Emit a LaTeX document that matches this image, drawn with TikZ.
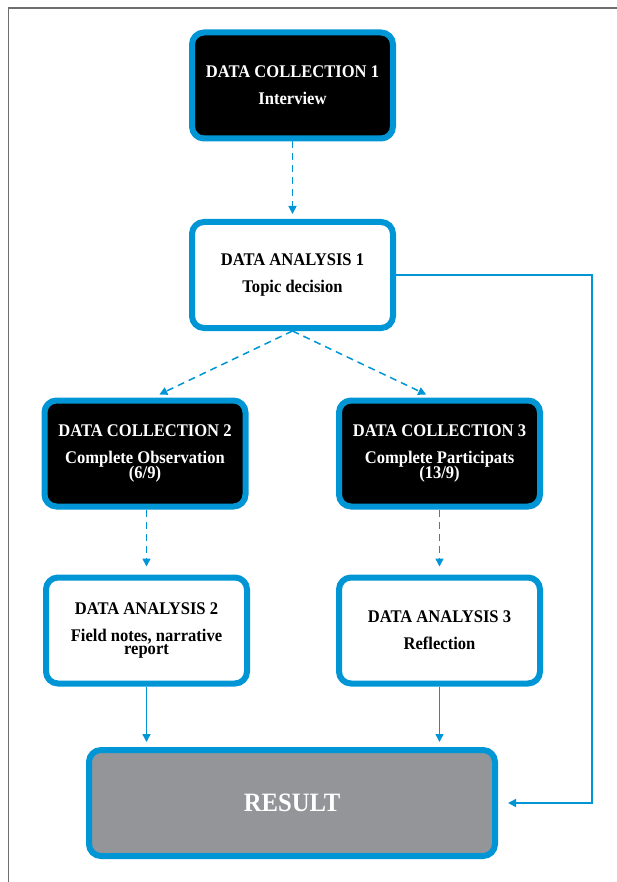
\documentclass[tikz,border=0pt]{standalone}
\usepackage{fontspec}
\setmainfont{Liberation Serif}[FakeStretch=0.93]
\usetikzlibrary{arrows.meta,calc}
\definecolor{flowblue}{RGB}{0,150,214}
\definecolor{resgray}{RGB}{148,149,153}
\definecolor{framegray}{RGB}{110,110,110}
% let text lines sit close without extra interline skip
\newcommand\tightlines{\lineskiplimit=-40pt\relax\lineskip=0pt\relax}

\begin{document}
\begin{tikzpicture}[x=1pt,y=-1pt,
  box/.style={draw=flowblue, line width=6pt, rounded corners=12pt,
    minimum width=201pt, minimum height=106pt, align=center, inner sep=0pt,
    font=\fontsize{17.8}{27}\selectfont\bfseries\tightlines},
  darkbox/.style={box, fill=black, text=white},
  lightbox/.style={box, fill=white, text=black},
  resultbox/.style={box, fill=resgray, text=white, minimum width=406pt,
    font=\fontsize{26.5}{30}\selectfont\bfseries},
  link/.style={draw=flowblue, line width=1.5pt,
    -{Triangle[length=8pt,width=8pt]}},
  dashlink/.style={link, dash pattern=on 7pt off 5pt}
]
\useasboundingbox (0,0) rectangle (617,882);

% page frame
\draw[framegray, line width=1.2pt] (8.5,882) -- (8.5,8) -- (617,8);

% stages
\node[darkbox]  (dc1) at (292.5,85.5) {DATA COLLECTION 1\\Interview};
\node[lightbox] (da1) at (292.5,275) {DATA ANALYSIS 1\\Topic decision};
\node[darkbox]  (dc2) at (145,453.5) {DATA COLLECTION 2\\Complete Observation\\[-12.5pt](6/9)};
\node[darkbox]  (dc3) at (439.5,453.5) {DATA COLLECTION 3\\Complete Participats\\[-12.5pt](13/9)};
\node[lightbox] (da2) at (146.5,630.5) {DATA ANALYSIS 2\\Field notes, narrative\\[-13.5pt]report};
\node[lightbox] (da3) at (439.5,630.5) {DATA ANALYSIS 3\\Reflection};
\node[resultbox] (res) at (292,803) {RESULT};

\coordinate (rt) at (592,0);

% dashed flow between collection and analysis
\draw[dashlink, shorten >=5pt] (dc1.south) -- (da1.north);
\draw[dashlink, shorten >=7pt] (da1.south) -- ($(dc2.north)+(8,0)$);
\draw[dashlink, shorten >=7pt] (da1.south) -- ($(dc3.north)+(-7,0)$);
\draw[dashlink, shorten >=8pt] (dc2.south -| da2.north) -- (da2.north);
\draw[dashlink, shorten >=8pt] (dc3.south) -- (da3.north);

% solid flow into the result
\draw[link, shorten >=5pt] (da2.south) -- (da2.south |- res.north);
\draw[link, shorten >=5pt] (da3.south) -- (da3.south |- res.north);
\draw[link, shorten >=10pt] (da1.east) -- (da1.east -| rt) |- (res.east);
\end{tikzpicture}
\end{document}
